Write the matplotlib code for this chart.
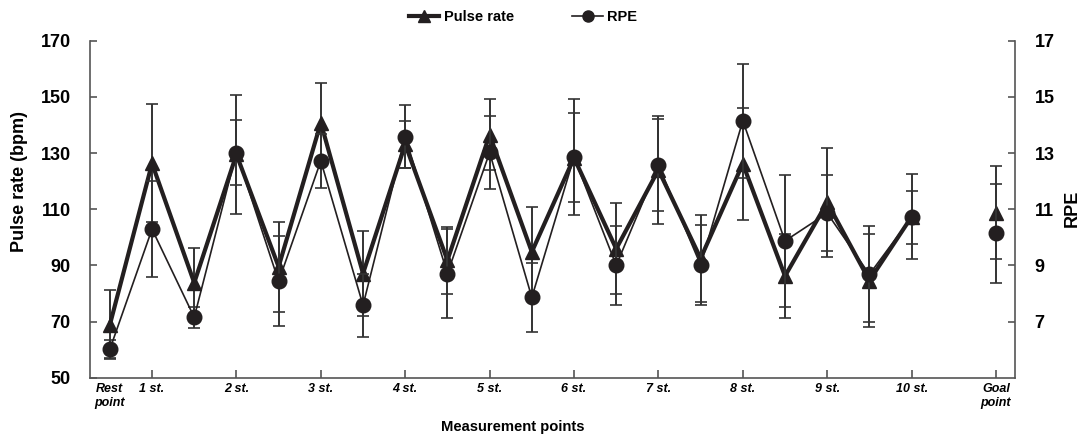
import matplotlib
matplotlib.use("Agg")
import matplotlib.pyplot as plt
from matplotlib.lines import Line2D

plt.rcParams['font.family'] = ['Liberation Sans', 'DejaVu Sans']

# ---- data ----
x_pos = [0, 1, 2, 3, 4, 5, 6, 7, 8, 9, 10, 11, 12, 13, 14, 15, 16, 17, 18, 19, 21]
pulse_mean = [68.8, 126.3, 83.8, 129.5, 89.5, 140.8, 87.1, 133.1, 91.8, 136.5, 94.8,
              128.3, 95.9, 124.0, 92.5, 126.2, 86.2, 112.4, 84.6, 107.3, 108.8]
pulse_sd = [12.3, 21.0, 12.5, 21.3, 16.0, 14.2, 15.2, 8.4, 12.0, 12.6, 16.0,
            15.8, 16.2, 19.2, 15.5, 20.0, 14.9, 19.3, 16.6, 15.2, 16.6]
rpe_mean = [6.01, 10.29, 7.15, 13.01, 8.43, 12.72, 7.58, 13.58, 8.71, 13.02, 7.86,
            12.85, 9.00, 12.57, 9.01, 14.15, 9.87, 10.86, 8.68, 10.71, 10.14]
rpe_sd = [0.32, 1.71, 0.37, 1.15, 1.60, 0.95, 1.13, 1.12, 1.60, 1.29, 1.22,
          2.06, 1.41, 1.63, 1.41, 2.03, 2.34, 1.35, 1.71, 0.95, 1.77]
tick_pos = [0, 1, 3, 5, 7, 9, 11, 13, 15, 17, 19, 21]
tick_labels = ["Rest\npoint", "1 st.", "2 st.", "3 st.", "4 st.", "5 st.", "6 st.",
               "7 st.", "8 st.", "9 st.", "10 st.", "Goal\npoint"]
left_ticks = [50, 70, 90, 110, 130, 150, 170]
right_ticks = [7, 9, 11, 13, 15, 17]

ink = '#231f20'
spine_c = '#555555'

fig = plt.figure(figsize=(10.83, 4.37), dpi=100)
ax = fig.add_axes([0.0831, 0.1357, 0.8541, 0.7712])
ax2 = ax.twinx()

n = len(x_pos) - 1  # connected points (goal is separate)

# Pulse rate
ax.errorbar(x_pos, pulse_mean, yerr=pulse_sd, fmt='none', ecolor='#333333',
            elinewidth=1.4, capsize=4, capthick=1.2, zorder=2)
ax.plot(x_pos[:n], pulse_mean[:n], color=ink, lw=3.0, zorder=3)
ax.plot(x_pos, pulse_mean, ls='none', marker='^', ms=10.5, color=ink, zorder=4)

# RPE
ax2.errorbar(x_pos, rpe_mean, yerr=rpe_sd, fmt='none', ecolor='#333333',
             elinewidth=1.4, capsize=4, capthick=1.2, zorder=2)
ax2.plot(x_pos[:n], rpe_mean[:n], color=ink, lw=1.2, zorder=3)
ax2.plot(x_pos, rpe_mean, ls='none', marker='o', ms=10.5, color=ink, zorder=4)

ax.set_xlim(-0.47, 21.45)
ax.set_ylim(50, 170)
ax2.set_ylim(5, 17)
ax.set_yticks(left_ticks)
ax2.set_yticks(right_ticks)
ax.set_xticks(tick_pos)
ax.set_xticklabels(tick_labels, fontsize=9, fontweight='bold', fontstyle='italic', linespacing=1.2)
ax.get_xticklines()[0].set_visible(False)
ax.get_xticklines()[1].set_visible(False)

for a in (ax, ax2):
    a.spines['top'].set_visible(False)
    for s in ('left', 'right', 'bottom'):
        a.spines[s].set_color(spine_c)
        a.spines[s].set_linewidth(1.2)
ax.spines['right'].set_visible(False)
ax2.spines['left'].set_visible(False)
ax2.spines['bottom'].set_visible(False)

ax.tick_params(axis='y', direction='in', length=5, width=1.2, color=spine_c,
               labelsize=13, pad=14)
ax.tick_params(axis='x', direction='in', length=6, width=1.2, color=spine_c, pad=4)
ax2.tick_params(axis='y', direction='in', length=5, width=1.2, color=spine_c,
                labelsize=13, pad=14)
for lab in ax.get_yticklabels() + ax2.get_yticklabels():
    lab.set_fontweight('bold')

fig.text(20 / 1083, 1 - 182 / 437, 'Pulse rate (bpm)', rotation=90, ha='center', va='center',
         fontsize=13, fontweight='bold')
fig.text(1072 / 1083, 1 - 208 / 437, 'RPE', rotation=90, ha='center', va='center',
         fontsize=13, fontweight='bold')
fig.text(513 / 1083, 1 - 427 / 437, 'Measurement points', ha='center', va='center',
         fontsize=10.6, fontweight='bold')

handles = [Line2D([], [], color=ink, lw=3.0, marker='^', ms=8),
           Line2D([], [], color=ink, lw=1.2, marker='o', ms=8)]
fig.legend(handles, ['Pulse rate', 'RPE'], loc='center', bbox_to_anchor=(0.483, 0.962),
           ncol=2, frameon=False, prop={'weight': 'bold', 'size': 10.5},
           handlelength=2.1, handletextpad=0.3, columnspacing=4.0)

fig.savefig('out.png', dpi=100)
